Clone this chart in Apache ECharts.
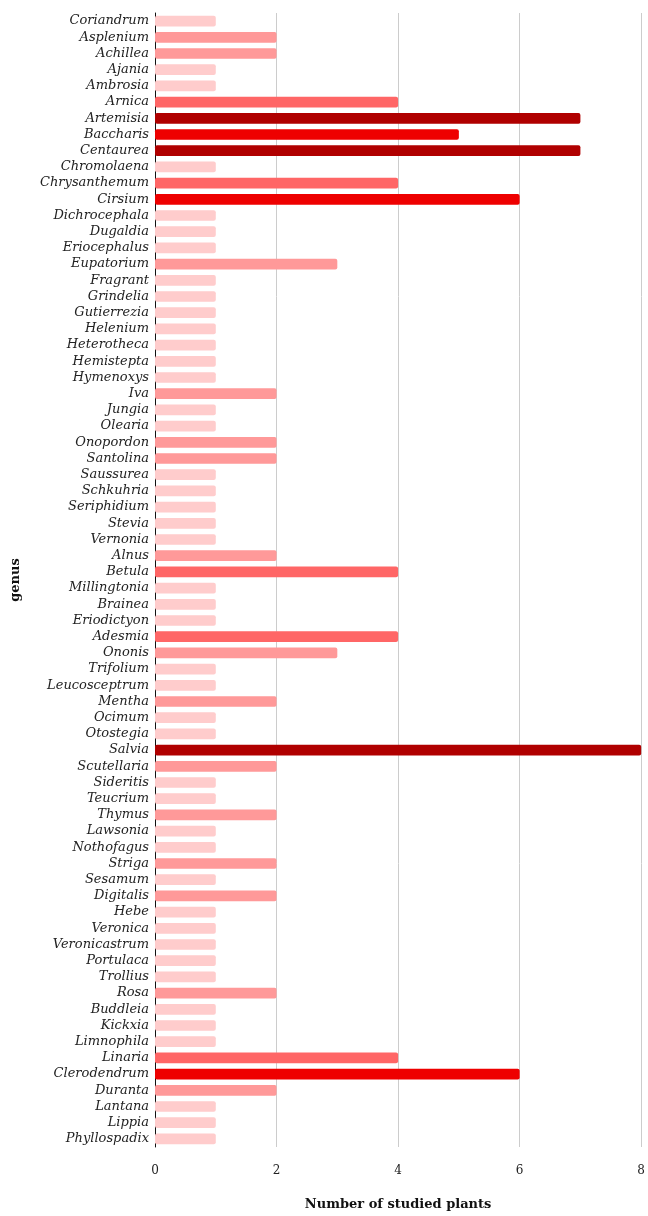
<!DOCTYPE html>
<html>
<head>
<meta charset="utf-8">
<script src="https://cdn.jsdelivr.net/npm/echarts@6/dist/echarts.min.js"></script>
<style>html,body{margin:0;padding:0;background:#fff;}#c{width:648px;height:1216px;}</style>
</head>
<body>
<div id="c"></div>
<script>
const genera = ["Coriandrum","Asplenium","Achillea","Ajania","Ambrosia","Arnica","Artemisia","Baccharis","Centaurea","Chromolaena","Chrysanthemum","Cirsium","Dichrocephala","Dugaldia","Eriocephalus","Eupatorium","Fragrant","Grindelia","Gutierrezia","Helenium","Heterotheca","Hemistepta","Hymenoxys","Iva","Jungia","Olearia","Onopordon","Santolina","Saussurea","Schkuhria","Seriphidium","Stevia","Vernonia","Alnus","Betula","Millingtonia","Brainea","Eriodictyon","Adesmia","Ononis","Trifolium","Leucosceptrum","Mentha","Ocimum","Otostegia","Salvia","Scutellaria","Sideritis","Teucrium","Thymus","Lawsonia","Nothofagus","Striga","Sesamum","Digitalis","Hebe","Veronica","Veronicastrum","Portulaca","Trollius","Rosa","Buddleia","Kickxia","Limnophila","Linaria","Clerodendrum","Duranta","Lantana","Lippia","Phyllospadix"];
const counts = [1,2,2,1,1,4,7,5,7,1,4,6,1,1,1,3,1,1,1,1,1,1,1,2,1,1,2,2,1,1,1,1,1,2,4,1,1,1,4,3,1,1,2,1,1,8,2,1,1,2,1,1,2,1,2,1,1,1,1,1,2,1,1,1,4,6,2,1,1,1];
const xTicks = [0,2,4,6,8];

function colorFor(v){
  if (v >= 7) return '#b00000';
  if (v >= 5) return '#ee0000';
  if (v >= 4) return '#ff6666';
  if (v >= 2) return '#ff9999';
  return '#ffcccc';
}

const chart = echarts.init(document.getElementById('c'));
chart.setOption({
  animation: false,
  grid: {left: 155, right: 1, top: 13, bottom: 60, containLabel: false},
  xAxis: {
    type: 'value', min: 0, max: 8, interval: 2,
    name: 'Number of studied plants', nameLocation: 'middle', nameGap: 51,
    nameTextStyle: {fontFamily: 'DejaVu Serif', fontWeight: 'bold', fontSize: 13, color: '#111'},
    axisLine: {show: false}, axisTick: {show: false},
    axisLabel: {fontFamily: 'DejaVu Serif', fontSize: 12, color: '#222', margin: 18,
      formatter: v => xTicks.includes(v) ? String(v) : ''},
    splitLine: {show: true, lineStyle: {color: '#cccccc', width: 1}}
  },
  yAxis: {
    type: 'category', data: genera, inverse: true,
    name: 'genus', nameLocation: 'middle', nameGap: 133, nameRotate: 90,
    nameTextStyle: {fontFamily: 'DejaVu Serif', fontWeight: 'bold', fontSize: 13, color: '#111'},
    axisLine: {show: true, lineStyle: {color: '#111', width: 1}},
    axisTick: {show: false},
    axisLabel: {fontFamily: 'DejaVu Serif', fontStyle: 'italic', fontSize: 13, color: '#222', margin: 6, interval: 0},
    splitLine: {show: false}
  },
  series: [{
    type: 'bar',
    data: counts.map(v => ({value: v, itemStyle: {color: colorFor(v)}})),
    barCategoryGap: '34%',
    itemStyle: {borderRadius: 2}
  }]
});
</script>
</body>
</html>
